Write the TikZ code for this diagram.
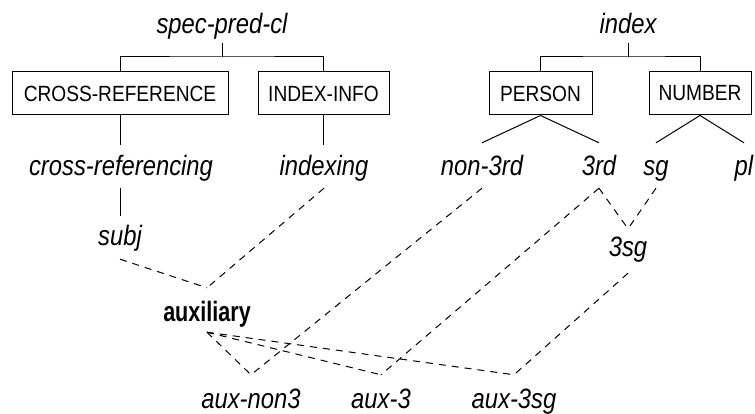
\documentclass[tikz,border=0pt]{standalone}
\usepackage{fontspec}
\setmainfont{Liberation Sans}
\newfontfamily\labfont{Liberation Sans}[FakeStretch=0.85]
\newfontfamily\headfont{Liberation Sans}[FakeStretch=0.77]
\newfontfamily\boxfont{Liberation Sans}[FakeStretch=0.87]
\usetikzlibrary{calc}

\begin{document}
\begin{tikzpicture}[x=1pt,y=-1pt,
  every node/.style={inner sep=0pt},
  lab/.style={anchor=base, font=\labfont\fontsize{28}{28}\selectfont\itshape,
              text height=17pt, text depth=5pt},
  headlab/.style={anchor=base, font=\headfont\fontsize{28}{28}\selectfont\bfseries,
              text height=17pt, text depth=5pt},
  featbox/.style={draw, line width=1pt, minimum height=43pt,
              font=\boxfont\fontsize{22}{22}\selectfont},
  tree/.style={line width=1pt},
  link/.style={line width=1pt, dash pattern=on 7pt off 6pt},
]
\useasboundingbox[fill=white] (0,0) rectangle (755,414);

% top types
\node[lab] (spec)  at (222,34) {spec-pred-cl};
\node[lab] (index) at (628,34) {index};

% feature boxes
\node[featbox, minimum width=216pt] (xbox) at (120,93.5)   {CROSS-REFERENCE};
\node[featbox, minimum width=131pt] (ibox) at (323.5,93.5) {INDEX-INFO};
\node[featbox, minimum width=103pt] (pbox) at (540.5,93.5) {PERSON};
\node[featbox, minimum width=102pt] (nbox) at (700,93.5)   {NUMBER};

\coordinate (specbar)  at (222,57);
\coordinate (indexbar) at (628,57);

% values
\node[lab] (xref)  at (121,176)   {cross-referencing};
\node[lab] (idx)   at (324,176)   {indexing};
\node[lab] (non3)  at (482,176)   {non-3rd};
\node[lab] (third) at (599,176)   {3rd};
\node[lab] (sg)    at (656,176)   {sg};
\node[lab] (pl)    at (744,176)   {pl};
\node[lab] (subj)  at (120,245)   {subj};
\node[lab] (tsg)   at (628,256)   {3sg};

% auxiliary and its subtypes
\node[headlab] (aux) at (207,321) {auxiliary};
\node[lab] (auxnon3)  at (251,408) {aux-non3};
\node[lab] (auxthree) at (381,408) {aux-3};
\node[lab] (auxsg)    at (514,408) {aux-3sg};

\coordinate (auxtop) at ([yshift=16pt]aux.north);
\coordinate (auxbot) at ([yshift=-6pt]aux.south);
\coordinate (xreftop) at ([yshift=14pt]xref.north);
\coordinate (xrefbot) at ([yshift=-7pt]xref.south);
\coordinate (idxtop)  at ([yshift=14pt]idx.north);
\coordinate (subjtop) at ([yshift=12pt]subj.north);

% feature trees
\draw[tree] ([yshift=-4pt]spec.south) -- (specbar);
\draw[tree] (xbox.north) |- (specbar) -| (ibox.north);
\draw[tree] ([yshift=-4pt]index.south) -- (indexbar);
\draw[tree] (pbox.north) |- (indexbar) -| (nbox.north);

\draw[tree] (xbox.south) -- (xbox.south |- xreftop);
\draw[tree] (ibox.south) -- (ibox.south |- idxtop);
\draw[tree] (xbox.south |- xrefbot) -- (xbox.south |- subjtop);
\draw[tree] (pbox.south) -- ([yshift=16pt]non3.north);
\draw[tree] (pbox.south) -- ([yshift=16pt]third.north);
\draw[tree] (nbox.south) -- ([yshift=16pt]sg.north);
\draw[tree] (nbox.south) -- ([yshift=16pt]pl.north);

% type hierarchy links
\draw[link] ([yshift=-9pt]subj.south) -- (auxtop);
\draw[link] ([yshift=-7pt]idx.south) -- (auxtop);
\draw[link] ([yshift=-7pt]third.south) -- ([yshift=10pt]tsg.north);
\draw[link] ([yshift=-7pt]sg.south) -- ([yshift=10pt]tsg.north);
\draw[link] ([yshift=-7pt]non3.south) -- ([yshift=16pt]auxnon3.north);
\draw[link] ([yshift=-7pt]third.south) -- ([yshift=16pt]auxthree.north);
\draw[link] ([yshift=-12pt]tsg.south) -- ([yshift=16pt]auxsg.north);
\draw[link] (auxbot) -- ([yshift=16pt]auxnon3.north);
\draw[link] (auxbot) -- ([yshift=16pt]auxthree.north);
\draw[link] (auxbot) -- ([yshift=16pt]auxsg.north);
\end{tikzpicture}
\end{document}
